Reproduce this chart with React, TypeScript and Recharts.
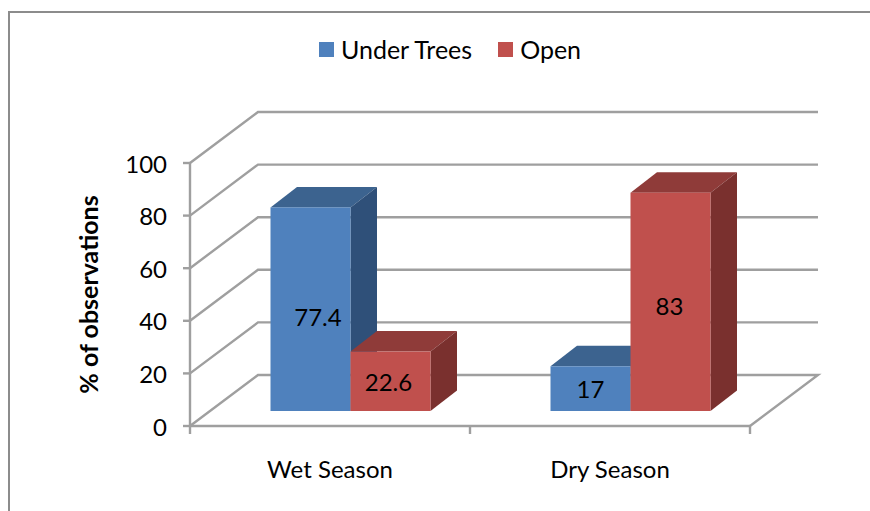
import React from "react";
import { BarChart, Bar, XAxis, YAxis, CartesianGrid, Legend, LabelList } from "recharts";

const categories = ["Wet Season", "Dry Season"];
const underTrees = [77.4, 17];
const open = [22.6, 83];
const yTicks = [0, 20, 40, 60, 80, 100];
const data = categories.map((season, i) => ({ season, underTrees: underTrees[i], open: open[i] }));

const FONT = "Lato, 'Open Sans', sans-serif";
const FS = 24;
const GRID = "#9f9f9f";
const W = 870;
const H = 511;
const M = { top: 163, right: 120, bottom: 25, left: 130 };
const BAND = (W - M.left - M.right - 60) / categories.length;
const WALL = { dx: 68, dy: -51 };
const BAR_SHIFT = { dx: 20.5, dy: -15 };
const BAR_DEPTH = { dx: 26.5, dy: -20.5 };
const LABEL_NUDGE: Record<string, [number, number]> = { "77.4": [7.5, 7], "83": [-1, 4], "22.6": [-2, 0] };

function gridLine(p: any) {
  const { x1, y1, x2 } = p;
  const bx = WALL.dx, by = WALL.dy;
  const isFloor = Math.abs(y1 - (p.y + p.height)) < 0.5;
  return (
    <g key={p.key}>
      <polyline
        points={`${x1},${y1} ${x1 + bx},${y1 + by} ${x2 + bx},${y1 + by}${isFloor ? ` ${x2},${y1}` : ""}`}
        fill="none"
        stroke={GRID}
        strokeWidth={2.4}
      />
    </g>
  );
}

function box(front: string, top: string, side: string) {
  return (p: any) => {
    const x = p.x + BAR_SHIFT.dx;
    const y = p.y + BAR_SHIFT.dy;
    const w = p.width;
    const h = p.height;
    const { dx, dy } = BAR_DEPTH;
    return (
      <g>
        <polygon points={`${x},${y} ${x + dx},${y + dy} ${x + w + dx},${y + dy} ${x + w},${y}`} fill={top} />
        <polygon points={`${x + w},${y} ${x + w + dx},${y + dy} ${x + w + dx},${y + h + dy} ${x + w},${y + h}`} fill={side} />
        <rect x={x} y={y} width={w} height={h} fill={front} />
      </g>
    );
  };
}

function valueLabel(p: any) {
  const n = LABEL_NUDGE[String(p.value)] || [0, 0];
  const cx = p.x + p.width / 2 + BAR_SHIFT.dx + n[0];
  const cy = p.y + p.height / 2 + BAR_SHIFT.dy + n[1];
  return (
    <text x={cx} y={cy} textAnchor="middle" dominantBaseline="central" fontFamily={FONT} fontSize={FS} fill="#000">
      {p.value}
    </text>
  );
}

function xTick(p: any) {
  const { x, y, payload, index } = p;
  const axisY = y - 8;
  return (
    <g>
      <line x1={x - BAND / 2} x2={x - BAND / 2} y1={axisY} y2={axisY + 8} stroke={GRID} strokeWidth={2.4} />
      {index === categories.length - 1 && (
        <line x1={x + BAND / 2} x2={x + BAND / 2} y1={axisY} y2={axisY + 8} stroke={GRID} strokeWidth={2.4} />
      )}
      <text x={x} y={axisY + 42} textAnchor="middle" dominantBaseline="central" fontFamily={FONT} fontSize={FS} fill="#000">
        {payload.value}
      </text>
    </g>
  );
}

function legendContent(p: any) {
  return (
    <div style={{ display: "flex", justifyContent: "center", alignItems: "center", fontFamily: FONT, fontSize: 25, color: "#000" }}>
      {(p.payload || []).map((e: any, i: number) => (
        <div key={e.value} style={{ display: "flex", alignItems: "center", marginRight: i === 0 ? 26 : 0 }}>
          <span style={{ display: "inline-block", width: 15, height: 15, background: e.color, marginRight: 7 }} />
          <span>{e.value}</span>
        </div>
      ))}
    </div>
  );
}

export default function App() {
  return (
    <div style={{ position: "absolute", left: 0, top: 0, width: W, height: H, overflow: "hidden", background: "#fff" }}>
      <div style={{ position: "absolute", left: 8, top: 11, right: 0, bottom: 0, borderLeft: "2px solid #8c8c8c", borderTop: "2px solid #8c8c8c" }} />
      <BarChart width={W} height={H} data={data} margin={M} barSize={80} barGap={0} style={{ position: "absolute", left: 0, top: 0 }}>
        <CartesianGrid vertical={false} horizontal={gridLine as any} />
        <XAxis dataKey="season" height={60} axisLine={{ stroke: GRID, strokeWidth: 2.4 }} tickLine={false} tick={xTick as any} tickSize={0} tickMargin={8} interval={0} />
        <YAxis
          width={60}
          domain={[0, 100]}
          ticks={yTicks}
          interval={0}
          axisLine={{ stroke: GRID, strokeWidth: 2.4 }}
          tickLine={{ stroke: GRID, strokeWidth: 2.4 }}
          tickSize={7}
          tickMargin={16}
          tick={{ fontFamily: FONT, fontSize: FS, fill: "#000", dy: 1 }}
          label={{ value: "% of observations", angle: -90, position: "center", dx: -71, dy: 0, style: { fontFamily: FONT, fontSize: 25, fontWeight: 700, fill: "#000" } }}
        />
        <Legend verticalAlign="middle" itemSorter={null as any} content={legendContent as any} wrapperStyle={{ top: 34, left: 15, width: W }} />
        <Bar dataKey="underTrees" name="Under Trees" fill="#4F81BD" isAnimationActive={false} shape={box("#4F81BD", "#3C638F", "#2F5079") as any}>
          <LabelList dataKey="underTrees" content={valueLabel as any} />
        </Bar>
        <Bar dataKey="open" name="Open" fill="#C0504D" isAnimationActive={false} shape={box("#C0504D", "#8F3B39", "#7A302E") as any}>
          <LabelList dataKey="open" content={valueLabel as any} />
        </Bar>
      </BarChart>
    </div>
  );
}
